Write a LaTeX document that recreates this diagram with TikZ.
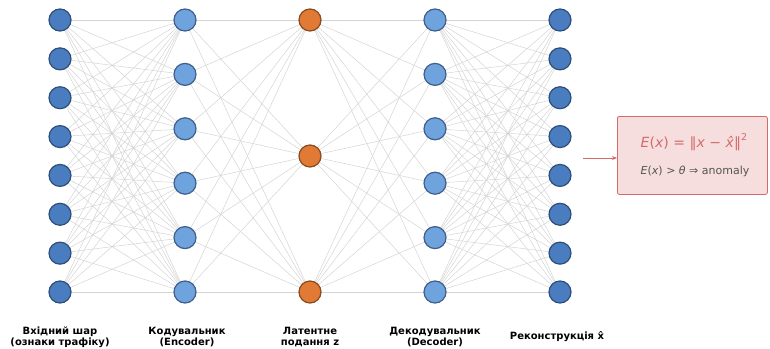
\documentclass[tikz,border=0pt]{standalone}
\usepackage{fontspec}
\setmainfont{DejaVu Sans}
\usetikzlibrary{backgrounds,arrows.meta}
\definecolor{inblue}{HTML}{4A7CC0}
\definecolor{inedge}{HTML}{2E4E7A}
\definecolor{encblue}{HTML}{6FA3DD}
\definecolor{encedge}{HTML}{3E5F8C}
\definecolor{latorange}{HTML}{E07A35}
\definecolor{latedge}{HTML}{8A4A20}
\definecolor{edgegray}{HTML}{D4D4D4}
\definecolor{boxred}{HTML}{D46A6A}
\definecolor{boxfill}{HTML}{F6DEDE}
\definecolor{txtgray}{HTML}{555555}
\tikzset{
  neuron/.style={circle,minimum size=22pt,inner sep=0pt,line width=1.2pt},
  inneuron/.style={neuron,fill=inblue,draw=inedge},
  encneuron/.style={neuron,fill=encblue,draw=encedge},
  latneuron/.style={neuron,fill=latorange,draw=latedge},
  conn/.style={draw=edgegray,line width=0.5pt},
  layerlabel/.style={font=\fontsize{10}{10.5}\selectfont\bfseries,align=center,text=black},
  scorebox/.style={draw=boxred,fill=boxfill,rounded corners=2pt,line width=0.8pt},
  redarrow/.style={draw=boxred,line width=1pt,-{Stealth[length=5pt,width=4pt]}}
}
\begin{document}
\begin{tikzpicture}[x=1pt,y=-1pt]
\useasboundingbox (0,0) rectangle (770,348);
% input and output layers (8 nodes)
\foreach \k in {1,...,8}{
  \pgfmathsetmacro{\yy}{20+(\k-1)*272/7}
  \node[inneuron] (i\k) at (60,\yy) {};
  \node[inneuron] (o\k) at (560,\yy) {};
}
% encoder/decoder (6 nodes)
\foreach \k in {1,...,6}{
  \pgfmathsetmacro{\yy}{20+(\k-1)*272/5}
  \node[encneuron] (e\k) at (185,\yy) {};
  \node[encneuron] (d\k) at (435,\yy) {};
}
% latent (3 nodes)
\foreach \k in {1,...,3}{
  \pgfmathsetmacro{\yy}{20+(\k-1)*136}
  \node[latneuron] (z\k) at (310,\yy) {};
}
\begin{pgfonlayer}{background}
\foreach \a in {1,...,8}{\foreach \b in {1,...,6}{
  \draw[conn] (i\a.center) -- (e\b.center);
  \draw[conn] (d\b.center) -- (o\a.center);
}}
\foreach \a in {1,...,6}{\foreach \b in {1,...,3}{
  \draw[conn] (e\a.center) -- (z\b.center);
  \draw[conn] (z\b.center) -- (d\a.center);
}}
\end{pgfonlayer}
% labels
\node[layerlabel] (l1) at (60,337) {Вхідний шар\\(ознаки трафіку)};
\node[layerlabel] (l2) at (187,337) {Кодувальник\\(Encoder)};
\node[layerlabel] (l3) at (310,337) {Латентне\\подання z};
\node[layerlabel] (l4) at (435,337) {Декодувальник\\(Decoder)};
\node[layerlabel] (l5) at (557,337) {Реконструкція x̂};
% score box
\node[scorebox,minimum width=150pt,minimum height=78pt,anchor=north west] (box) at (617,116) {};
\node[text=boxred,font=\fontsize{14}{16}\selectfont] (f1) at (694,142)
  {\textit{E}(\textit{x}) = ‖\textit{x} − \textit{x̂}‖\raisebox{0.45em}{\fontsize{9.5}{10}\selectfont 2}};
\node[text=txtgray,font=\fontsize{11}{12}\selectfont] (f2) at (695,171)
  {\textit{E}(\textit{x}) > \textit{θ} ⇒ anomaly};
\coordinate (as) at (583,158);
\draw[redarrow] (as) -- (as -| box.west);
\end{tikzpicture}
\end{document}
